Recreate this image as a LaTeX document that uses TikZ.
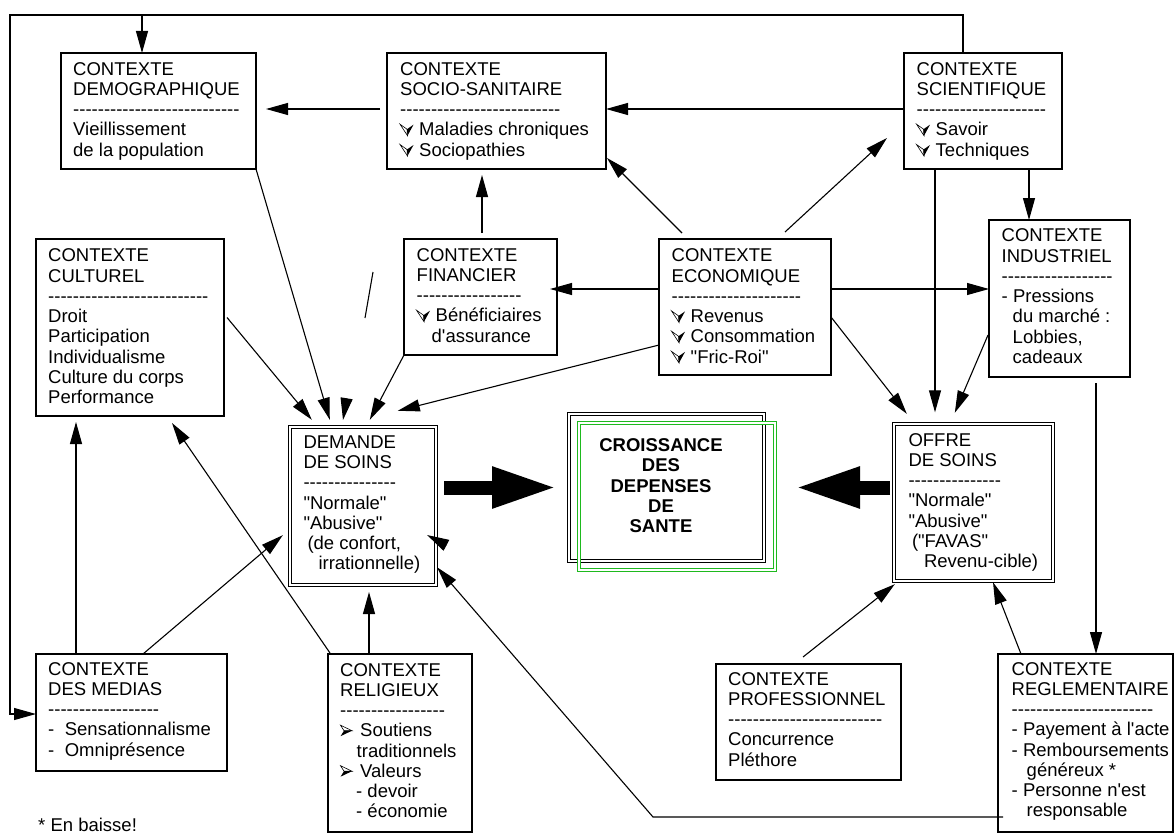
\documentclass[tikz,border=0pt]{standalone}
\usepackage{fontspec}
\setmainfont{Liberation Sans}
\usetikzlibrary{arrows.meta}
\ExplSyntaxOn
\cs_new:Npn \dashrow #1 { \prg_replicate:nn {#1} { -\kern0pt } }
\ExplSyntaxOff
\newcommand\qq[1]{\textquotedbl #1\textquotedbl}
\definecolor{boxgreen}{RGB}{30,185,30}

\begin{document}
\begin{tikzpicture}[x=1pt,y=-1pt,
  box/.style={draw, line width=1.2pt, inner sep=0pt, outer sep=0pt, anchor=north west},
  dbox/.style={draw, line width=0.9pt, double, double distance=1.8pt, inner sep=0pt, outer sep=0pt, anchor=north west},
  txt/.style={anchor=north west, align=left, inner sep=0pt, font=\fontsize{18.5}{20.25}\selectfont},
  link/.style={line width=1.1pt},
  arr/.style={link, -{Triangle[length=22pt,width=12pt]}},
  bigarr/.style={line width=14pt, -{Triangle[length=65pt,width=38pt]}},
  vbul/.pic={\draw[line width=0.6pt, fill=white] (0,-11.5) -- (7,-6.5) -- (7.5,0) -- cycle;
             \fill (7,-6.5) -- (13.5,-11) -- (7.5,0) -- cycle;},
  rbul/.pic={\draw[line width=0.6pt, fill=white] (0.5,-11.5) -- (12,-6) -- (4,-6) -- cycle;
             \fill (4,-6) -- (12,-6) -- (0.5,-0.5) -- cycle;}
]
\useasboundingbox (0,0) rectangle (1174,837);

% ---------- boxes ----------
\node[box, minimum width=195pt, minimum height=116pt] (demo) at (61,53) {};
\node[box, minimum width=219pt, minimum height=116pt] (socio) at (387,53) {};
\node[box, minimum width=158pt, minimum height=116pt] (sci) at (904,53) {};
\node[box, minimum width=188pt, minimum height=177pt] (cult) at (36,239) {};
\node[box, minimum width=153pt, minimum height=116pt] (fin) at (404,239) {};
\node[box, minimum width=172pt, minimum height=136pt] (eco) at (659,239) {};
\node[box, minimum width=141pt, minimum height=157pt] (ind) at (989,220) {};
\node[dbox, minimum width=146.4pt, minimum height=158.4pt] (dem) at (289.8,426.8) {};
\node[dbox, minimum width=195.4pt, minimum height=147.4pt] (cro) at (568.8,413.8) {};
\node[dbox, draw=boxgreen, minimum width=196.4pt, minimum height=147.4pt] (crog) at (578.8,422.8) {};
\node[dbox, minimum width=159.4pt, minimum height=157.4pt] (off) at (893.8,423.8) {};
\node[box, minimum width=191pt, minimum height=117pt] (med) at (36,654) {};
\node[box, minimum width=144pt, minimum height=178pt] (rel) at (328,654) {};
\node[box, minimum width=185pt, minimum height=116pt] (pro) at (716,664) {};
\node[box, minimum width=175pt, minimum height=178pt] (reg) at (998,654) {};

% ---------- texts ----------
\node[txt] (demo-t) at ([shift={(12,7.8)}]demo.north west)
  {\strut CONTEXTE\\DEMOGRAPHIQUE\\\dashrow{27}\\Vieillissement\\de la population};
\node[txt] (socio-t) at ([shift={(13,7.8)}]socio.north west)
  {\strut CONTEXTE\\SOCIO-SANITAIRE\\\dashrow{26}\\\hspace*{19pt}Maladies chroniques\\\hspace*{19pt}Sociopathies};
\node[txt] (sci-t) at ([shift={(12.5,7.8)}]sci.north west)
  {\strut CONTEXTE\\SCIENTIFIQUE\\\dashrow{21}\\\hspace*{19pt}Savoir\\\hspace*{19pt}Techniques};
\node[txt] (cult-t) at ([shift={(12,8.5)}]cult.north west)
  {\strut CONTEXTE\\CULTUREL\\\dashrow{26}\\Droit\\Participation\\Individualisme\\Culture du corps\\Performance};
\node[txt] (fin-t) at ([shift={(12.5,7.8)}]fin.north west)
  {\strut CONTEXTE\\FINANCIER\\\dashrow{17}\\\hspace*{19pt}Bénéficiaires\\\hspace*{15pt}d\textquotesingle assurance};
\node[txt] (eco-t) at ([shift={(12.5,8.5)}]eco.north west)
  {\strut CONTEXTE\\ECONOMIQUE\\\dashrow{21}\\\hspace*{19pt}Revenus\\\hspace*{19pt}Consommation\\\hspace*{19pt}\qq{Fric-Roi}};
\node[txt] (ind-t) at ([shift={(12.5,7.5)}]ind.north west)
  {\strut CONTEXTE\\INDUSTRIEL\\\dashrow{18}\\- Pressions\\\hspace*{11pt}du marché :\\\hspace*{11pt}Lobbies,\\\hspace*{11pt}cadeaux};
\node[txt] (dem-t) at ([shift={(13.5,7.3)}]dem.north west)
  {\strut DEMANDE\\DE SOINS\\\dashrow{15}\\\qq{Normale}\\\qq{Abusive}\\\hspace*{4pt}(de confort,\\\hspace*{15pt}irrationnelle)};
\node[txt, anchor=north, align=center, font=\fontsize{18.5}{20.25}\selectfont\bfseries] (cro-t)
  at ([shift={(-5.5,23.5)}]cro.north)
  {\strut CROISSANCE\\DES\\DEPENSES\\DE\\SANTE};
\node[txt] (off-t) at ([shift={(14.5,8)}]off.north west)
  {\strut OFFRE\\DE SOINS\\\dashrow{15}\\\qq{Normale}\\\qq{Abusive}\\\hspace*{3.5pt}(\qq{FAVAS}\\\hspace*{15.5pt}Revenu-cible)};
\node[txt] (med-t) at ([shift={(12,6.8)}]med.north west)
  {\strut CONTEXTE\\DES MEDIAS\\\dashrow{18}\\-\hspace*{10.5pt}Sensationnalisme\\-\hspace*{10.5pt}Omniprésence};
\node[txt] (rel-t) at ([shift={(12,7.8)}]rel.north west)
  {\strut CONTEXTE\\RELIGIEUX\\\dashrow{17}\\\hspace*{20pt}Soutiens\\\hspace*{16.5pt}traditionnels\\\hspace*{20pt}Valeurs\\\hspace*{16pt}- devoir\\\hspace*{16pt}- économie};
\node[txt] (pro-t) at ([shift={(12,6.8)}]pro.north west)
  {\strut CONTEXTE\\PROFESSIONNEL\\\dashrow{25}\\Concurrence\\Pléthore};
\node[txt] (reg-t) at ([shift={(13.5,6.8)}]reg.north west)
  {\strut CONTEXTE\\REGLEMENTAIRE\\\dashrow{23}\\- Payement à l\textquotesingle acte\\- Remboursements\\\hspace*{15pt}généreux *\\- Personne n\textquotesingle est\\\hspace*{15pt}responsable};
\node[anchor=base west, inner sep=0pt, font=\fontsize{18.5}{20.25}\selectfont] (note) at (38,831) {* En baisse!};

% ---------- bullets ----------
\pic at ([shift={(0,74.9)}]socio-t.north west) {vbul};
\pic at ([shift={(0,95.2)}]socio-t.north west) {vbul};
\pic at ([shift={(0,74.9)}]sci-t.north west) {vbul};
\pic at ([shift={(0,95.2)}]sci-t.north west) {vbul};
\pic at ([shift={(0,74.9)}]fin-t.north west) {vbul};
\pic at ([shift={(0,74.9)}]eco-t.north west) {vbul};
\pic at ([shift={(0,95.2)}]eco-t.north west) {vbul};
\pic at ([shift={(0,115.4)}]eco-t.north west) {vbul};
\pic at ([shift={(0,74.9)}]rel-t.north west) {rbul};
\pic at ([shift={(0,115.4)}]rel-t.north west) {rbul};

% ---------- outer feedback loop ----------
\coordinate (loopTR) at (963,15);
\coordinate (loopTL) at (10,15);
\coordinate (loopBL) at (10,714);
\coordinate (loopD) at (142,15);
\draw[arr] (sci.north -| loopTR) -- (loopTR) -- (loopTL) -- (loopBL) -- (loopBL -| med.west);
\draw[arr] (loopD) -- (loopD |- demo.north);

% ---------- upper connectors ----------
\coordinate (s2) at ([yshift=2pt]sci.west);
\draw[arr] (s2) -- (s2 -| socio.east);
\coordinate (s3) at ([yshift=2pt]socio.west);
\draw[arr, shorten <=7pt, shorten >=10pt] (s3) -- (s3 -| demo.east);
\coordinate (s4) at ([shift={(-30.5,0)}]ind.north);
\draw[arr] (s4 |- sci.south) -- (s4);
\coordinate (s5) at ([shift={(31,0)}]sci.south west);
\draw[arr, shorten >=11.5pt] (s5) -- (s5 |- off.north);
\draw[arr] ([shift={(40,-7)}]eco.north) -- ([shift={(-17,-31)}]sci.south west);
\draw[arr] ([shift={(23,-6)}]eco.north west) -- ([shift={(1,-11)}]socio.south east);
\coordinate (f1) at ([shift={(1.5,-6)}]fin.north);
\draw[arr, shorten >=6pt] (f1) -- (f1 |- socio.south);
\coordinate (e1) at ([yshift=18pt]eco.west);
\draw[arr, shorten >=-7pt] (e1) -- (e1 -| fin.east);
\coordinate (e2) at ([yshift=18pt]eco.east);
\draw[arr] (e2) -- (e2 -| ind.west);
\draw[arr] ([shift={(0,10)}]eco.east) -- ([shift={(13,-10)}]off.north west);
\draw[arr] ([shift={(-1,115)}]ind.north west) -- ([shift={(61,-11)}]off.north west);
\coordinate (i1) at ([shift={(36.5,6)}]ind.south);
\draw[arr] (i1) -- (i1 |- reg.north);

% ---------- into the demand box ----------
\draw[arr] (demo.south east) -- ([shift={(40,-7)}]dem.north west);
\draw[arr] ([shift={(3,-10)}]cult.east) -- ([shift={(22,-7)}]dem.north west);
\coordinate (brA) at (373,272);
\coordinate (brB) at (365,318);
\draw[link] (brA) -- (brB);
\draw[arr] ([shift={(56.8,-28.5)}]dem.north west) -- ([shift={(53.2,-6.8)}]dem.north west);
\draw[arr] (fin.south west) -- ([shift={(80,-7)}]dem.north west);
\draw[arr] ([shift={(0,38)}]eco.west) -- ([shift={(108,-16)}]dem.north west);
\draw[arr] ([shift={(10.2,-39.9)}]dem.south east) -- ([shift={(-9.2,-50.2)}]dem.south east);

% ---------- lower connectors ----------
\coordinate (m1) at ([shift={(40,0)}]med.north west);
\draw[arr, shorten >=6pt] (m1) -- (m1 |- cult.south);
\draw[arr] ([shift={(107,0)}]med.north west) -- ([shift={(-7,-50)}]dem.south west);
\draw[arr] ([shift={(2,-1)}]rel.north west) -- ([shift={(-52,7)}]cult.south east);
\coordinate (r1) at ([shift={(41,0)}]rel.north west);
\draw[arr, shorten >=6.8pt] (r1) -- (r1 |- dem.south);
\coordinate (g1) at ([shift={(5,-15)}]reg.south west);
\coordinate (g2) at ([shift={(-350,0)}]g1);
\draw[arr] (g1) -- (g2) -- ([shift={(0.8,-18)}]dem.south east);
\draw[arr] ([shift={(87,-7)}]pro.north west) -- ([shift={(1,3)}]off.south west);
\draw[arr] ([shift={(23,0)}]reg.north west) -- ([shift={(-60.2,1)}]off.south east);

% ---------- block arrows towards the central box ----------
\draw[bigarr, shorten <=7.8pt, shorten >=11.8pt] (dem.east |- cro.west) -- (cro.west);
\draw[bigarr, shorten <=3.8pt, shorten >=30.8pt] (off.west |- cro.east) -- (cro.east);
\end{tikzpicture}
\end{document}
